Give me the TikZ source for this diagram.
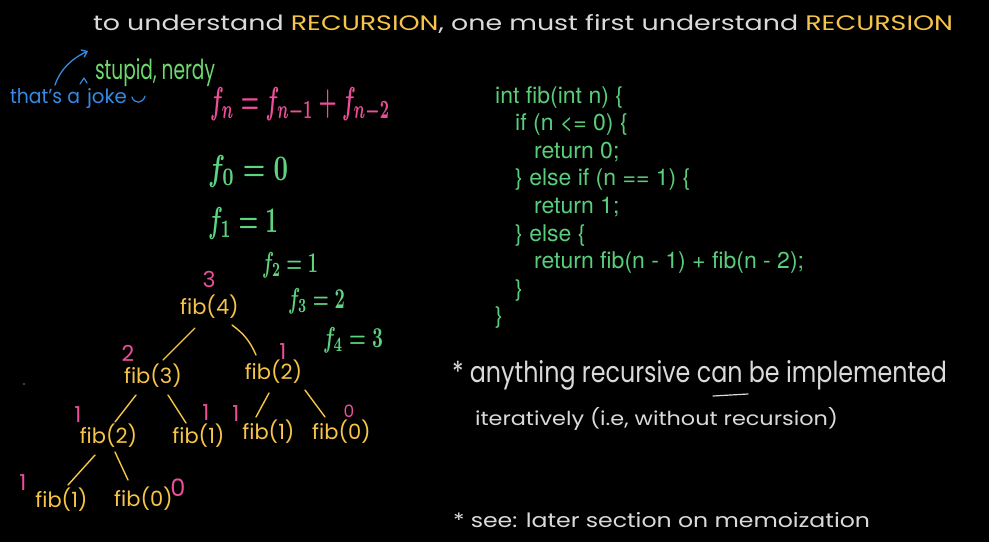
\documentclass[tikz,border=0pt]{standalone}
\usepackage{fontspec}
\usepackage{graphicx}
\setmainfont{Poppins}
\newfontfamily\codefont{TeX Gyre Heros}
\usetikzlibrary{arrows.meta}
\definecolor{wht}{RGB}{218,218,218}
\definecolor{ylw}{RGB}{245,196,72}
\definecolor{pnk}{RGB}{236,78,152}
\definecolor{fgreen}{RGB}{92,212,128}
\definecolor{sgreen}{RGB}{108,218,110}
\definecolor{cgreen}{RGB}{90,205,122}
\definecolor{blu}{RGB}{52,138,228}
\newcommand{\fitbox}[3]{\resizebox{#1pt}{#2pt}{#3}}
\begin{document}
\begin{tikzpicture}[x=1pt,y=-1pt,
  txt/.style={anchor=base west, inner sep=0pt, outer sep=0pt},
  fibnode/.style={inner sep=0pt, outer sep=0pt, text height=16pt, text depth=5pt, font=\fontsize{21}{21}\selectfont, text=ylw},
  valnum/.style={inner sep=0pt, text height=12pt, text depth=0pt, font=\fontsize{22}{22}\selectfont, text=pnk},
  treeline/.style={draw=ylw, line width=1.4pt, line cap=round},
  codeline/.style={anchor=base west, inner sep=0pt, font=\codefont\fontsize{23}{23}\selectfont, text=cgreen}]
\useasboundingbox (0,0) rectangle (989,542);
\fill[black] (0,0) rectangle (989,542);

% title
\node[txt] (title) at (93,30) {\fitbox{860}{16}{\color{wht}to understand \color{ylw}RECURSION\color{wht}, one must first understand \color{ylw}RECURSION}};

% annotation
\node[txt] (stupid) at (95,79) {\fitbox{120}{21}{\color{sgreen}stupid, nerdy}};
\node[txt] (thats) at (10,103) {\fitbox{70}{15}{\color{blu}that's a}};
\node[txt] (joke) at (87,103) {\fitbox{40}{15}{\color{blu}joke}};
\coordinate (arrS) at (55,85);
\coordinate (arrE) at (88,51);
\draw[blu, line width=1.3pt, line cap=round, -{Straight Barb[length=5pt,width=8pt]}] (arrS) .. controls (60,70) and (71,59) .. (arrE);
\draw[blu, line width=1.2pt, line cap=round, line join=round] (80,84) -- (84,78) -- (87,83);
\draw[blu, line width=1.2pt, line cap=round] (132,97) .. controls (134,104) and (143,104) .. (145,96);

% formulas
\node[txt] (fn) at (210,113) {\fitbox{180}{26}{\color{pnk}\boldmath$f_n = f_{n-1} + f_{n-2}$}};
\node[txt] (f0) at (208,180) {\fitbox{80}{25}{\color{fgreen}\boldmath$f_0 = 0$}};
\node[txt] (f1) at (208,232) {\fitbox{70}{25}{\color{fgreen}\boldmath$f_1 = 1$}};
\node[txt] (f2e) at (262,272) {\fitbox{56}{20}{\color{fgreen}\boldmath$f_2 = 1$}};
\node[txt] (f3e) at (288,308) {\fitbox{57}{20}{\color{fgreen}\boldmath$f_3 = 2$}};
\node[txt] (f4e) at (323,347) {\fitbox{60}{20}{\color{fgreen}\boldmath$f_4 = 3$}};

% tree
\node[fibnode] (f4) at (209.5,309) {fib(4)};
\node[fibnode] (f3) at (153,377.5) {fib(3)};
\node[fibnode] (f2r) at (273.5,374) {fib(2)};
\node[fibnode] (f2l) at (108.5,437.5) {fib(2)};
\node[fibnode] (f1a) at (198.5,437.5) {fib(1)};
\node[fibnode] (f1b) at (268.5,433.5) {fib(1)};
\node[fibnode] (f0a) at (341.5,433.5) {fib(0)};
\node[fibnode] (f1c) at (61.5,502) {fib(1)};
\node[fibnode] (f0b) at (143.5,501) {fib(0)};

\node[valnum] (v4) at (209,281) {3};
\node[valnum] (v3) at (128,355) {2};
\node[valnum] (v2r) at (283,353) {1};
\node[valnum] (v2l) at (78,416) {1};
\node[valnum] (v1a) at (206,414) {1};
\node[valnum] (v1b) at (236,415) {1};
\node[valnum, text height=10pt, font=\fontsize{17}{17}\selectfont] (v0a) at (349,412) {0};
\node[valnum] (v1c) at (23,484) {1};
\node[valnum, text height=14pt, font=\fontsize{24}{24}\selectfont] (v0b) at (178,489) {0};

\draw[treeline] ([xshift=-14.5pt,yshift=-8.5pt]f4.south) -- ([xshift=10pt,yshift=7pt]f3.north);
\draw[treeline] ([xshift=22.5pt,yshift=-5.5pt]f4.south) to[bend left=15] ([xshift=-17.5pt,yshift=8.5pt]f2r.north);
\draw[treeline] ([xshift=-17pt,yshift=-7pt]f3.south) -- ([xshift=6.5pt,yshift=5pt]f2l.north);
\draw[treeline] ([xshift=15pt,yshift=-7pt]f3.south) -- ([xshift=-12.5pt,yshift=4pt]f1a.north);
\draw[treeline] ([xshift=-4.5pt,yshift=-8.5pt]f2r.south) -- ([xshift=-12.5pt,yshift=6pt]f1b.north);
\draw[treeline] ([xshift=31.5pt,yshift=-5.5pt]f2r.south) -- ([xshift=-16.5pt,yshift=6pt]f0a.north);
\draw[treeline] ([xshift=-13.5pt,yshift=-7pt]f2l.south) -- ([xshift=6.5pt,yshift=6.5pt]f1c.north);
\draw[treeline] ([xshift=6.5pt,yshift=-4pt]f2l.south) -- ([xshift=-15.5pt,yshift=10.5pt]f0b.north);

\fill[gray] (24,384) circle (0.9);

% code
\node[codeline] (c1) at (495,103) {int fib(int n) \{};
\node[codeline] (c2) at (515,130.6) {if (n <= 0) \{};
\node[codeline] (c3) at (534,158.2) {return 0;};
\node[codeline] (c4) at (515,185.8) {\} else if (n == 1) \{};
\node[codeline] (c5) at (534,213.4) {return 1;};
\node[codeline] (c6) at (515,241) {\} else \{};
\node[codeline] (c7) at (534,268.6) {return fib(n - 1) + fib(n - 2);};
\node[codeline] (c8) at (515,296.2) {\}};
\node[codeline] (c9) at (495,323.8) {\}};

% notes
\node[txt] (noteA) at (452,382) {\fitbox{495}{22}{\color{wht}* anything recursive can be implemented}};
\draw[wht, line width=1.2pt, line cap=round] (713,396) -- (748,394);
\node[txt] (noteB) at (475,425) {\fitbox{363}{18}{\color{wht}iteratively (i.e, without recursion)}};
\node[txt] (noteC) at (453,527) {\fitbox{417}{15}{\color{wht}* see: later section on memoization}};
\end{tikzpicture}
\end{document}
